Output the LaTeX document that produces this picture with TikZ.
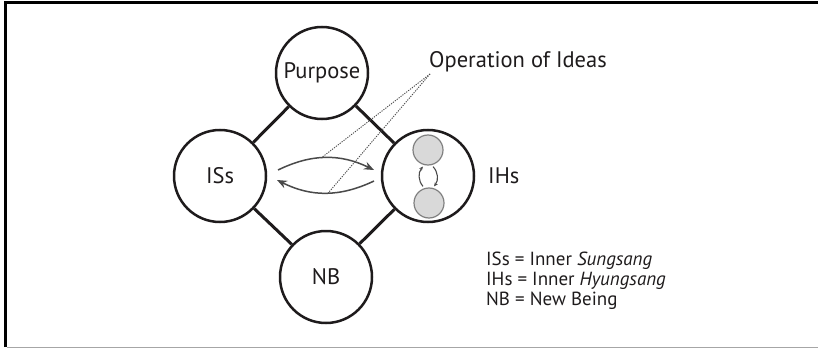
\documentclass[tikz,border=0pt]{standalone}
\usepackage{fontspec}
\setmainfont{PT Sans}
\usetikzlibrary{arrows.meta,calc}
\definecolor{ink}{HTML}{1E1B1C}
\definecolor{arcgray}{HTML}{4A4A4A}
\definecolor{innerfill}{HTML}{D9D9D9}
\begin{document}
\begin{tikzpicture}[x=1pt,y=-1pt,
  big/.style={circle,draw=ink,line width=2.5pt,minimum size=92pt,inner sep=0pt,text=ink,font=\fontsize{22.5}{26}\selectfont},
  link/.style={draw=ink,line width=3pt},
  flow/.style={draw=arcgray,line width=1.5pt,-{Stealth[length=10pt,width=8pt]}},
  small/.style={circle,draw=gray,fill=innerfill,line width=1.2pt,minimum size=30pt,inner sep=0pt},
  tiny/.style={draw=arcgray,line width=1.1pt,-{Stealth[length=4pt,width=3.5pt]}},
  pointer/.style={draw=arcgray,line width=0.9pt,dash pattern=on 1.2pt off 1.2pt},
  legend/.style={anchor=base west,inner sep=0pt,text=ink,font=\fontsize{19}{22}\selectfont},
  label/.style={anchor=base west,inner sep=0pt,text=ink,font=\fontsize{22.5}{26}\selectfont}]
\useasboundingbox (0,0) rectangle (818,350);
% frame
\draw[black,line width=2.5pt] (5.5,347) -- (5.5,2.5) -- (818,2.5);
\draw[gray!70,line width=1.5pt] (7,347.5) -- (818,347.5);
% circles
\node[big] (P) at (322,73) {Purpose};
\node[big] (S) at (220,176) {ISs};
\node[big] (H) at (428,176) {};
\node[big] (N) at (326,277) {NB};
% links
\draw[link] (P) -- (S);
\draw[link] (P) -- (H);
\draw[link] (S) -- (N);
\draw[link] (N) -- (H);
% inner circles of IHs
\node[small] (Ht) at (428,150) {};
\node[small] (Hb) at (429,203) {};
\coordinate (il1) at ($(Hb.north)+(-6,-1)$);
\coordinate (il2) at ($(Ht.south)+(-5,1)$);
\coordinate (ir1) at ($(Ht.south)+(5,1)$);
\coordinate (ir2) at ($(Hb.north)+(5,-1)$);
\draw[tiny] (il1) to[bend left=40] (il2);
\draw[tiny] (ir1) to[bend left=40] (ir2);
% flows
\coordinate (a1) at ($(S.center)+(58,-6)$);
\coordinate (a2) at ($(H.center)+(-54,-6)$);
\coordinate (b1) at ($(H.center)+(-54,5)$);
\coordinate (b2) at ($(S.center)+(57,4)$);
\draw[flow] (a1) to[bend left=26] coordinate[pos=0.45] (u) (a2);
\draw[flow] (b1) to[bend left=26] coordinate[pos=0.47] (d) (b2);
% labels
\node[label] (IHs) at (488,183) {IHs};
\node[label] (OI) at (429,68) {Operation of Ideas};
\coordinate (oi) at (430,74);
\draw[pointer] (oi) -- (u);
\draw[pointer] (oi) -- (d);
% legend
\node[legend] (L1) at (486,265) {ISs = Inner \textit{Sungsang}};
\node[legend] (L2) at (486,285) {IHs = Inner \textit{Hyungsang}};
\node[legend] (L3) at (486,305) {NB = New Being};
\end{tikzpicture}
\end{document}
